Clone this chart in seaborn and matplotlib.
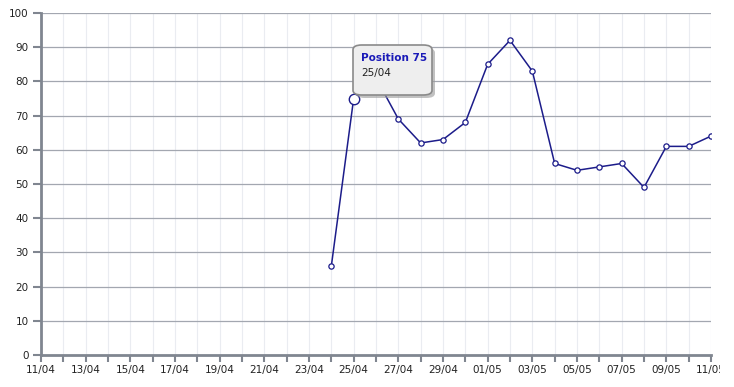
import matplotlib
matplotlib.use("Agg")
import matplotlib.pyplot as plt
import seaborn as sns
import pandas as pd
import numpy as np
from matplotlib.patches import FancyBboxPatch
from matplotlib.transforms import Bbox

# ---- data ----
days = list(range(0, 31))  # day offset from 11/04
tick_labels = ["11/04", "13/04", "15/04", "17/04", "19/04", "21/04", "23/04", "25/04",
               "27/04", "29/04", "01/05", "03/05", "05/05", "07/05", "09/05", "11/05"]
point_days = [13, 14, 15, 16, 17, 18, 19, 20, 21, 22, 23, 24, 25, 26, 27, 28, 29, 30]
positions = [26, 75, 81, 69, 62, 63, 68, 85, 92, 83, 56, 54, 55, 56, 49, 61, 61, 64]
highlight_day = 14
highlight_value = 75
tooltip_title = "Position 75"
tooltip_date = "25/04"

df = pd.DataFrame({"day": point_days, "position": positions})

sns.set_theme(style="white")
plt.rcParams['font.family'] = ['DejaVu Sans']

fig = plt.figure(figsize=(7.34, 3.87), dpi=100)
ax = fig.add_axes([41/734, 32/387, 670/734, 342/387])

ax.set_xlim(0, 30)
ax.set_ylim(0, 100)

# grids
for d in days:
    ax.axvline(d, color="#eaecf1", lw=0.8, zorder=0)
for v in range(10, 101, 10):
    ax.axhline(v, color="#a3a7b0", lw=0.9, zorder=0.5)

sns.lineplot(data=df, x="day", y="position", ax=ax, color="#1c1c8a", lw=1.1,
             marker="o", markersize=3.8, markerfacecolor="white",
             markeredgecolor="#1c1c8a", markeredgewidth=0.9, zorder=3)
ax.plot([highlight_day], [highlight_value], marker="o", markersize=7.5,
        markerfacecolor="white", markeredgecolor="#1c1c8a", markeredgewidth=1.0, zorder=4)

ax.set_xlabel("")
ax.set_ylabel("")
ax.set_xticks(days, minor=True)
ax.set_xticks(list(range(0, 31, 2)))
ax.set_xticklabels(tick_labels)
ax.set_yticks(list(range(0, 101, 10)))

for s in ["top", "right"]:
    ax.spines[s].set_visible(False)
for s in ["left", "bottom"]:
    ax.spines[s].set_color("#808690")
    ax.spines[s].set_linewidth(2)
    ax.spines[s].set_zorder(5)

ax.tick_params(axis="both", which="both", direction="out", color="#808690",
               width=1.5, labelsize=7.5, labelcolor="#222222",
               bottom=True, left=True, top=False, right=False)
ax.tick_params(axis="x", which="major", length=5, pad=2)
ax.tick_params(axis="x", which="minor", length=5)
ax.tick_params(axis="y", which="major", length=6, pad=3)

# tooltip
fig_tr = fig.transFigure
def px(x, y):
    return (x / 734, 1 - y / 387)

shadow = FancyBboxPatch(px(356, 98), 79/734, 50/387, boxstyle="round,pad=0,rounding_size=0.012",
                        transform=fig_tr, facecolor="#999999", edgecolor="none", alpha=0.6, zorder=9)
box = FancyBboxPatch(px(353, 95), 79/734, 50/387, boxstyle="round,pad=0,rounding_size=0.012",
                     transform=fig_tr, facecolor="#eeeeee", edgecolor="#8a8a8a", lw=1.2, zorder=10)
fig.patches.extend([shadow, box])
fig.text(*px(361, 61), tooltip_title, color="#1a1ab8", fontweight="bold", fontsize=7.5, zorder=11)
fig.text(*px(361, 76), tooltip_date, color="#222222", fontsize=7.5, zorder=11)

fig.canvas.draw()
clip = Bbox.from_extents(0, 0, 720, 387)
for lbl in ax.get_xticklabels():
    lbl.set_clip_on(True)
    lbl.set_clip_box(clip)

fig.savefig("out.png", dpi=100)
